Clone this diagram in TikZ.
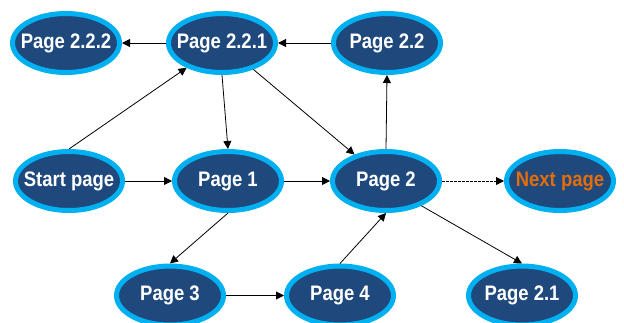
\documentclass[tikz,border=0pt]{standalone}
\usepackage{fontspec}
\setmainfont{Liberation Sans}
\usetikzlibrary{shapes.geometric,arrows.meta}
\definecolor{pagefill}{RGB}{31,73,125}
\definecolor{pageborder}{RGB}{0,176,240}
\definecolor{nextorange}{RGB}{228,108,10}
\newcommand{\pagetext}[1]{\makebox[0pt]{\scalebox{0.88}[1]{#1}}}
\tikzset{
  pagenode/.style={ellipse, draw=pageborder, fill=pagefill, line width=5pt,
    minimum width=107pt, minimum height=59pt, inner sep=0pt,
    text=white, font=\fontsize{21}{22}\selectfont\bfseries},
  link/.style={draw=black, line width=0.8pt, -{Triangle[length=8pt,width=8pt]}},
  dashlink/.style={link, dash pattern=on 2.5pt off 1.5pt}
}
\begin{document}
\begin{tikzpicture}[x=1pt,y=-1pt]
\useasboundingbox (0,0) rectangle (624,322);
\node[pagenode] (p222) at (66,43) {\pagetext{Page 2.2.2}};
\node[pagenode] (p221) at (222,43) {\pagetext{Page 2.2.1}};
\node[pagenode] (p22) at (387,43) {\pagetext{Page 2.2}};
\node[pagenode] (start) at (69,181) {\pagetext{Start page}};
\node[pagenode] (p1) at (228,181) {\pagetext{Page 1}};
\node[pagenode] (p2) at (386,181) {\pagetext{Page 2}};
\node[pagenode, text=nextorange] (next) at (560,181) {\pagetext{Next page}};
\node[pagenode] (p3) at (170,295.5) {\pagetext{Page 3}};
\node[pagenode] (p4) at (340,295.5) {\pagetext{Page 4}};
\node[pagenode] (p21) at (522,295.5) {\pagetext{Page 2.1}};

\draw[link] (p221) -- (p222);
\draw[link] (p22) -- (p221);
\draw[link] (start.north) -- (p221.215);
\draw[link] (p221.south) -- (p1.north);
\draw[link] (p221) -- (p2);
\draw[link] (start) -- (p1);
\draw[link] (p1) -- (p2);
\draw[link] (p2.north) -- (p22.south);
\draw[dashlink] (p2) -- (next);
\draw[link] (p1.south) -- (p3.north);
\draw[link] (p3) -- (p4);
\draw[link] (p4.north) -- (p2.south);
\draw[link] (p2.-35) -- (p21.north);
\end{tikzpicture}
\end{document}
